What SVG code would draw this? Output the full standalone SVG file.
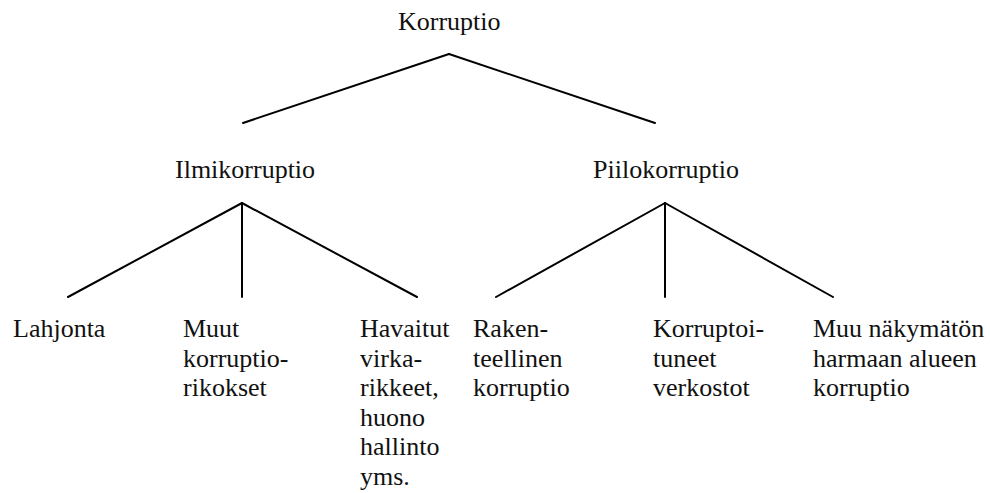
<svg xmlns="http://www.w3.org/2000/svg" width="990" height="493" viewBox="0 0 990 493">
<style>
.t{font-size:26px;fill:#111}
.c line{stroke:#000;stroke-width:2;stroke-linecap:round}
</style>
<rect width="990" height="493" fill="#fff"/>
<g id="connectors" class="c">
<line x1="449" y1="54" x2="243" y2="123"/>
<line x1="449" y1="54" x2="655" y2="123"/>
<line x1="242" y1="203" x2="68" y2="297"/>
<line x1="242" y1="203" x2="242" y2="297"/>
<line x1="242" y1="203" x2="417" y2="297"/>
<line x1="665" y1="203" x2="496" y2="297"/>
<line x1="665" y1="203" x2="665" y2="297"/>
<line x1="665" y1="203" x2="833" y2="297"/>
</g>
<g class="t" font-family="Liberation Serif, Times New Roman, serif">
<g id="korruptio"><text x="398" y="30">Korruptio</text></g>
<g id="ilmikorruptio"><text x="175" y="178">Ilmikorruptio</text></g>
<g id="piilokorruptio"><text x="593" y="178">Piilokorruptio</text></g>
<g id="lahjonta"><text x="13" y="337">Lahjonta</text></g>
<g id="muut"><text y="337"><tspan x="183">Muut</tspan><tspan x="183" dy="29.5">korruptio-</tspan><tspan x="183" dy="29.5">rikokset</tspan></text></g>
<g id="havaitut"><text y="337"><tspan x="360">Havaitut</tspan><tspan x="360" dy="29.5">virka-</tspan><tspan x="360" dy="29.5">rikkeet,</tspan><tspan x="360" dy="29.5">huono</tspan><tspan x="360" dy="29.5">hallinto</tspan><tspan x="360" dy="29.5">yms.</tspan></text></g>
<g id="rakenteellinen"><text y="337"><tspan x="473">Raken-</tspan><tspan x="473" dy="29.5">teellinen</tspan><tspan x="473" dy="29.5">korruptio</tspan></text></g>
<g id="verkostot"><text y="337"><tspan x="653">Korruptoi-</tspan><tspan x="653" dy="29.5">tuneet</tspan><tspan x="653" dy="29.5">verkostot</tspan></text></g>
<g id="harmaa"><text y="337"><tspan x="813">Muu näkymätön</tspan><tspan x="813" dy="29.5">harmaan alueen</tspan><tspan x="813" dy="29.5">korruptio</tspan></text></g>
</g>
</svg>
